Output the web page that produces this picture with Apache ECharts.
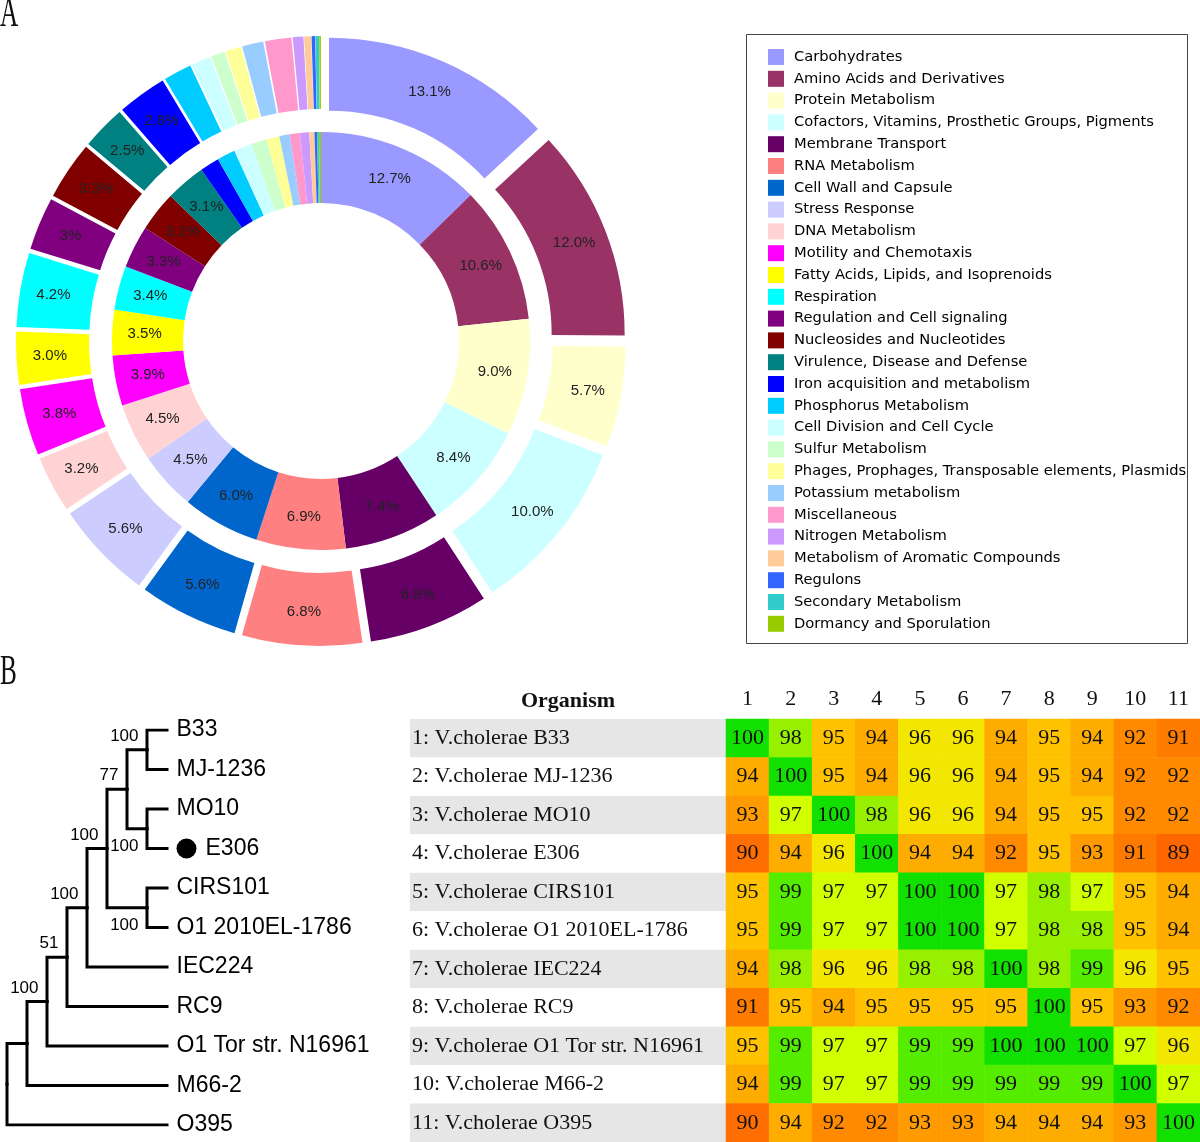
<!DOCTYPE html>
<html>
<head>
<meta charset="utf-8">
<script src="https://cdn.jsdelivr.net/npm/echarts@6/dist/echarts.min.js"></script>
<style>html,body{margin:0;padding:0;background:#fff}#main{width:1200px;height:1142px}</style>
</head>
<body>
<div id="main"></div>
<script>
// ---------- Panel A data ----------
const categories = ['Carbohydrates','Amino Acids and Derivatives','Protein Metabolism','Cofactors, Vitamins, Prosthetic Groups, Pigments','Membrane Transport','RNA Metabolism','Cell Wall and Capsule','Stress Response','DNA Metabolism','Motility and Chemotaxis','Fatty Acids, Lipids, and Isoprenoids','Respiration','Regulation and Cell signaling','Nucleosides and Nucleotides','Virulence, Disease and Defense','Iron acquisition and metabolism','Phosphorus Metabolism','Cell Division and Cell Cycle','Sulfur Metabolism','Phages, Prophages, Transposable elements, Plasmids','Potassium metabolism','Miscellaneous','Nitrogen Metabolism','Metabolism of Aromatic Compounds','Regulons','Secondary Metabolism','Dormancy and Sporulation'];
const catColors = ['#9999ff','#993366','#ffffcc','#ccffff','#660066','#ff8080','#0066cc','#ccccff','#ffd3d3','#ff00ff','#ffff00','#00ffff','#800080','#800000','#008080','#0000ff','#00ccff','#ccffff','#ccffcc','#ffff99','#99ccff','#ff99cc','#cc99ff','#ffcc99','#3366ff','#33cccc','#99cc00'];
const innerValues = [12.7,10.6,9.0,8.4,7.4,6.9,6.0,4.5,4.5,3.9,3.5,3.4,3.3,3.1,3.1,1.5,1.4,1.4,1.2,1.0,0.8,0.8,0.7,0.4,0.2,0.15,0.15];
const innerLabels = ['12.7%','10.6%','9.0%','8.4%','7.4%','6.9%','6.0%','4.5%','4.5%','3.9%','3.5%','3.4%','3.3%','3.1%','3.1%','','','','','','','','','','','',''];
const outerValues = [13.1,12.0,5.7,10.0,6.8,6.8,5.6,5.6,3.2,3.8,3.0,4.2,3.0,3.3,2.5,2.8,1.6,1.1,0.8,0.9,1.2,1.5,0.6,0.4,0.2,0.2,0.1];
const outerLabels = ['13.1%','12.0%','5.7%','10.0%','6.8%','6.8%','5.6%','5.6%','3.2%','3.8%','3.0%','4.2%','3%','3.3%','2.5%','2.8%','','','','','','','','','','',''];

// ---------- Panel B data ----------
const tree = {s:null, c:[
  {s:null, c:[
    {s:100, c:[
      {s:51, c:[
        {s:100, c:[
          {s:100, c:[
            {s:77, c:[ {s:100, c:['B33','MJ-1236']}, {s:100, c:['MO10','E306']} ]},
            {s:100, c:['CIRS101','O1 2010EL-1786']}
          ]},
          'IEC224'
        ]},
        'RC9'
      ]},
      'O1 Tor str. N16961'
    ]},
    'M66-2'
  ]},
  'O395'
]};
const markedLeaf = 'E306';
const rowLabels = ['1: V.cholerae B33','2: V.cholerae MJ-1236','3: V.cholerae MO10','4: V.cholerae E306','5: V.cholerae CIRS101','6: V.cholerae O1 2010EL-1786','7: V.cholerae IEC224','8: V.cholerae RC9','9: V.cholerae O1 Tor str. N16961','10: V.cholerae M66-2','11: V.cholerae O395'];
const colLabels = ['1','2','3','4','5','6','7','8','9','10','11'];
const identity = [
  [100,98,95,94,96,96,94,95,94,92,91],
  [94,100,95,94,96,96,94,95,94,92,92],
  [93,97,100,98,96,96,94,95,95,92,92],
  [90,94,96,100,94,94,92,95,93,91,89],
  [95,99,97,97,100,100,97,98,97,95,94],
  [95,99,97,97,100,100,97,98,98,95,94],
  [94,98,96,96,98,98,100,98,99,96,95],
  [91,95,94,95,95,95,95,100,95,93,92],
  [95,99,97,97,99,99,100,100,100,97,96],
  [94,99,97,97,99,99,99,99,99,100,97],
  [90,94,92,92,93,93,94,94,94,93,100]
];
const heatColors = ['#ff6600','#ff6e00','#ff7b00','#ff8a00','#ff9b00','#ffac00','#ffc200','#f3e600','#d2ff00','#96f000','#55ec00','#12e000'];

// ---------- tree layout (cladogram: leaves aligned, x = node height) ----------
let leafCounter = 0;
const edges = [], leafPts = [], supportPts = [];
function layout(n, isLast) {
  if (typeof n === 'string') {
    const p = {h: 0, y: leafCounter++, name: n};
    leafPts.push(p);
    return p;
  }
  const kids = n.c.map((k, i) => layout(k, i === n.c.length - 1));
  const h = 1 + Math.max(...kids.map(k => k.h));
  const y = (kids[0].y + kids[kids.length - 1].y) / 2;
  kids.forEach(k => edges.push({coords: [[h, y], [h, k.y], [k.h, k.y]]}));
  const p = {h, y, s: n.s, last: isLast};
  if (n.s != null) supportPts.push(p);
  return p;
}
layout(tree, false);

const heatData = [];
identity.forEach((row, r) => row.forEach((v, c) => heatData.push([c, r, v])));

const chart = echarts.init(document.getElementById('main'));
const serif = 'Liberation Serif, Times New Roman, serif';
const sans = 'Liberation Sans, Arial, sans-serif';

chart.setOption({
  animation: false,
  legend: {
    orient: 'vertical', left: 768, top: 49, padding: 0,
    itemWidth: 16, itemHeight: 16, itemGap: 5.8, icon: 'rect',
    selectedMode: false, data: categories,
    textStyle: {fontFamily: 'DejaVu Sans, Verdana, sans-serif', fontSize: 14.7, color: '#000', padding: [0, 0, 0, 5]}
  },
  graphic: [
    {type: 'rect', shape: {x: 746.5, y: 34.5, width: 441, height: 609}, style: {fill: 'none', stroke: '#444', lineWidth: 1}},
    {type: 'text', x: 0, y: 15, scaleX: 0.6, style: {text: 'A', font: '42px ' + serif, fill: '#111', textVerticalAlign: 'middle'}},
    {type: 'text', x: 0, y: 673, scaleX: 0.6, style: {text: 'B', font: '42px ' + serif, fill: '#111', textVerticalAlign: 'middle'}},
    {type: 'text', x: 568, y: 701, style: {text: 'Organism', font: 'bold 22px ' + serif, fill: '#111', textAlign: 'center', textVerticalAlign: 'middle'}}
  ],
  grid: [
    {left: 7, width: 160, top: 730, height: 395},
    {left: 726, width: 474, top: 719, height: 423}
  ],
  xAxis: [
    {gridIndex: 0, type: 'value', min: 0, max: 8, inverse: true, show: false},
    {gridIndex: 1, type: 'category', data: colLabels, position: 'top',
     axisLine: {show: false}, axisTick: {show: false},
     axisLabel: {margin: 9, fontFamily: serif, fontSize: 22, color: '#111'}}
  ],
  yAxis: [
    {gridIndex: 0, type: 'value', min: 0, max: 10, inverse: true, show: false},
    {gridIndex: 1, type: 'category', data: rowLabels, inverse: true,
     axisLine: {show: false}, axisTick: {show: false},
     axisLabel: {
       margin: 316, align: 'left',
       formatter: (v, i) => '{' + (i % 2 === 0 ? 'g' : 'w') + '|' + v + '}',
       rich: {
         g: {backgroundColor: '#e6e6e6', width: 314, height: 38.45, lineHeight: 38.45, padding: [0, 0, 0, 2], fontFamily: serif, fontSize: 22, color: '#111', align: 'left'},
         w: {backgroundColor: '#ffffff', width: 314, height: 38.45, lineHeight: 38.45, padding: [0, 0, 0, 2], fontFamily: serif, fontSize: 22, color: '#111', align: 'left'}
       }
     }}
  ],
  visualMap: {
    type: 'continuous', show: false, seriesIndex: 5, min: 89, max: 100,
    inRange: {color: heatColors}
  },
  series: [
    {
      type: 'pie', center: [321, 341], radius: [138, 209], startAngle: 90, clockwise: true,
      avoidLabelOverlap: false, emphasis: {scale: false},
      label: {show: true, position: 'inside', formatter: p => innerLabels[p.dataIndex], fontFamily: sans, fontSize: 15, color: '#222'},
      labelLine: {show: false},
      data: categories.map((n, i) => ({name: n, value: innerValues[i], itemStyle: {color: catColors[i]}}))
    },
    {
      type: 'pie', center: [321, 341], radius: [212, 285], startAngle: 90, clockwise: true,
      selectedMode: 'multiple', selectedOffset: 20,
      avoidLabelOverlap: false, emphasis: {scale: false},
      select: {itemStyle: {borderWidth: 0}},
      label: {show: true, position: 'inside', formatter: p => outerLabels[p.dataIndex], fontFamily: sans, fontSize: 15, color: '#222'},
      labelLine: {show: false},
      data: categories.map((n, i) => ({name: n, value: outerValues[i], selected: true, itemStyle: {color: catColors[i]}}))
    },
    {
      type: 'lines', coordinateSystem: 'cartesian2d', xAxisIndex: 0, yAxisIndex: 0,
      polyline: true, silent: true,
      lineStyle: {color: '#000', width: 3, opacity: 1, cap: 'square', join: 'miter', curveness: 0},
      data: edges
    },
    {
      type: 'scatter', xAxisIndex: 0, yAxisIndex: 0, symbolSize: 1, itemStyle: {color: '#000', opacity: 1}, silent: true,
      label: {
        show: true, position: 'right', distance: 9, fontFamily: sans, fontSize: 23, color: '#000', opacity: 1,
        formatter: p => p.value[2] === markedLeaf ? '{dot|}{t|' + p.value[2] + '}' : p.value[2],
        rich: {
          dot: {width: 20, height: 20, borderRadius: 10, backgroundColor: '#000'},
          t: {padding: [0, 0, 0, 9], fontFamily: sans, fontSize: 23, color: '#000'}
        }
      },
      data: leafPts.map(p => [p.h, p.y, p.name])
    },
    {
      type: 'scatter', xAxisIndex: 0, yAxisIndex: 0, symbolSize: 1, itemStyle: {color: '#000', opacity: 1}, silent: true,
      label: {show: true, align: 'right', verticalAlign: 'middle', fontFamily: 'Liberation Sans Narrow, ' + sans, fontSize: 17, color: '#000', opacity: 1,
              formatter: p => String(p.value[2])},
      data: supportPts.map(p => ({value: [p.h, p.y, p.s], label: {position: p.last ? [-8, 18] : [-8, -13]}}))
    },
    {
      type: 'heatmap', xAxisIndex: 1, yAxisIndex: 1,
      label: {show: true, fontFamily: serif, fontSize: 22, color: '#111'},
      itemStyle: {borderWidth: 0},
      emphasis: {disabled: true},
      data: heatData
    }
  ]
});
</script>
</body>
</html>
